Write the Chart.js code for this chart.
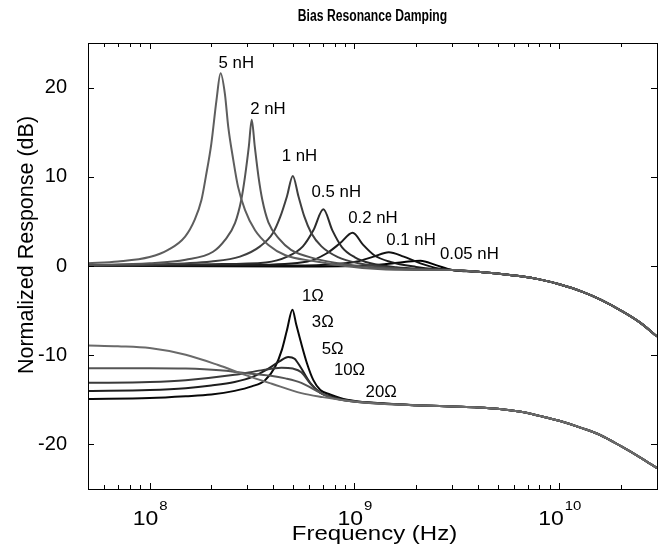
<!DOCTYPE html>
<html>
<head>
<meta charset="utf-8">
<script src="https://cdn.jsdelivr.net/npm/chart.js@4.4.1/dist/chart.umd.min.js"></script>
<style>
  html, body { margin: 0; padding: 0; background: #fff; }
  #c { display: block; }
</style>
</head>
<body>
<canvas id="c" width="668" height="553"></canvas>
<script>
// ---- Frequency response data (Hz, dB) ----
// Shared high-frequency roll-off, upper (inductance sweep) and lower (resistor sweep) groups
const tailFreq  = [3e9, 4e9, 5e9, 6.5e9, 8e9, 1e10, 1.3e10, 1.6e10, 2e10, 2.5e10, 3e10];
const tailUpper = [-0.45, -0.65, -0.85, -1.15, -1.5, -2.05, -2.9, -3.8, -5.0, -6.4, -7.9];
const tailLower = [-15.75, -15.85, -16.0, -16.35, -16.8, -17.35, -18.2, -19.0, -20.2, -21.5, -22.65];

// Bias inductance sweep
const freq5nH = [5e7, 7e7, 1e8, 1.23e8, 1.49e8, 1.66e8, 1.79e8, 1.88e8, 2.0e8, 2.12e8, 2.22e8, 2.33e8, 2.42e8, 2.56e8, 2.7e8, 2.92e8, 3.27e8, 3.8e8, 4.6e8, 6.3e8, 9e8, 1.3e9, 2e9];
const db5nH   = [0.3, 0.5, 1.0, 1.8, 3.3, 5.2, 7.4, 10.0, 13.7, 18.6, 21.6, 19.3, 15.6, 11.9, 8.9, 6.3, 4.0, 2.35, 1.2, 0.55, 0.0, -0.35, -0.45];

const freq2nH = [5e7, 1e8, 1.5e8, 2.04e8, 2.33e8, 2.61e8, 2.8e8, 2.92e8, 3.05e8, 3.15e8, 3.26e8, 3.4e8, 3.55e8, 3.8e8, 4.3e8, 4.9e8, 6.5e8, 9e8, 1.3e9, 2e9];
const db2nH   = [0.1, 0.3, 0.7, 1.6, 2.9, 4.8, 7.4, 10.0, 13.4, 16.4, 13.4, 10.0, 7.4, 4.9, 3.0, 1.8, 0.8, 0.2, -0.2, -0.4];

const freq1nH = [5e7, 1e8, 2e8, 2.76e8, 3.46e8, 4.0e8, 4.34e8, 4.68e8, 5.0e8, 5.33e8, 5.7e8, 6.15e8, 6.9e8, 8.3e8, 1.05e9, 1.5e9, 2e9];
const db1nH   = [0.05, 0.15, 0.5, 1.05, 2.2, 3.7, 5.5, 7.8, 10.1, 7.8, 5.5, 3.7, 2.2, 1.0, 0.3, -0.2, -0.35];

const freq05nH = [5e7, 1e8, 2e8, 3.7e8, 4.7e8, 5.6e8, 6.3e8, 7.05e8, 7.8e8, 8.7e8, 1.0e9, 1.2e9, 1.6e9, 2.2e9];
const db05nH   = [0.05, 0.1, 0.2, 0.4, 1.05, 2.2, 4.0, 6.35, 4.0, 2.1, 1.0, 0.3, -0.15, -0.35];

const freq02nH = [5e7, 1e8, 3e8, 5.9e8, 7.3e8, 8.5e8, 9.8e8, 1.1e9, 1.25e9, 1.5e9, 2e9, 2.5e9];
const db02nH   = [0.02, 0.05, 0.1, 0.5, 1.4, 2.55, 3.73, 2.4, 1.2, 0.45, -0.1, -0.35];

const freq01nH = [5e7, 1e8, 5e8, 8e8, 1.03e9, 1.24e9, 1.47e9, 1.74e9, 2.1e9, 2.6e9];
const db01nH   = [0.0, 0.02, 0.05, 0.2, 0.5, 1.05, 1.55, 1.05, 0.3, -0.3];

const freq005nH = [5e7, 1e8, 5e8, 1e9, 1.4e9, 1.75e9, 2.1e9, 2.5e9];
const db005nH   = [0.0, 0.0, -0.05, 0.0, 0.2, 0.45, 0.6, 0.1];

// Damping resistor sweep
const freq1R = [5e7, 1e8, 1.5e8, 2e8, 2.6e8, 3.15e8, 3.66e8, 4.1e8, 4.42e8, 4.68e8, 4.98e8, 5.2e8, 5.44e8, 5.86e8, 6.3e8, 6.81e8, 7.6e8, 9.2e8, 1.34e9, 1.95e9];
const db1R   = [-14.9, -14.8, -14.6, -14.4, -14.0, -13.5, -12.8, -11.3, -9.4, -7.2, -4.9, -6.6, -8.3, -10.9, -12.8, -13.9, -14.4, -15.0, -15.4, -15.6];

const freq3R = [5e7, 1e8, 1.5e8, 2e8, 2.6e8, 3.2e8, 3.8e8, 4.3e8, 4.75e8, 5.1e8, 5.44e8, 6.08e8, 6.8e8, 7.6e8, 9.2e8, 1.34e9, 1.95e9];
const db3R   = [-14.0, -13.9, -13.7, -13.4, -13.0, -12.4, -11.5, -10.7, -10.2, -10.4, -11.3, -13.1, -14.2, -14.6, -15.05, -15.4, -15.6];

const freq5R = [5e7, 1e8, 1.5e8, 2.6e8, 3.5e8, 4.4e8, 5.0e8, 5.5e8, 6.1e8, 6.8e8, 7.6e8, 9.2e8, 1.34e9, 1.95e9];
const db5R   = [-13.1, -13.0, -12.8, -12.2, -11.7, -11.4, -11.5, -11.9, -13.2, -14.2, -14.7, -15.1, -15.4, -15.6];

const freq10R = [5e7, 1e8, 1.5e8, 2.2e8, 2.9e8, 3.9e8, 4.6e8, 5.5e8, 6.8e8, 7.6e8, 9.2e8, 1.34e9, 1.95e9];
const db10R   = [-11.45, -11.45, -11.5, -11.7, -12.0, -12.3, -12.6, -13.1, -14.2, -14.7, -15.1, -15.45, -15.6];

const freq20R = [5e7, 7e7, 1e8, 1.5e8, 2.16e8, 2.92e8, 3.95e8, 5.5e8, 7e8, 9.2e8, 1.34e9, 1.95e9];
const db20R   = [-8.9, -9.0, -9.2, -9.95, -11.1, -12.2, -13.2, -14.25, -14.7, -15.1, -15.45, -15.6];

// Curve labels and their anchor points (Hz, dB)
const labelText = ['5 nH', '2 nH', '1 nH', '0.5 nH', '0.2 nH', '0.1 nH', '0.05 nH', '1\u03A9', '3\u03A9', '5\u03A9', '10\u03A9', '20\u03A9'];
const labelFreq = [2.65e8, 3.78e8, 5.39e8, 8.15e8, 1.23e9, 1.89e9, 3.64e9, 6.27e8, 7.0e8, 7.83e8, 9.46e8, 1.35e9];
const labelDb   = [22.7, 17.5, 12.25, 8.2, 5.27, 2.84, 1.23, -3.44, -6.36, -9.34, -11.77, -14.2];

// Axis ticks
const yTickValues = [-20, -10, 0, 10, 20];
const xDecades = [8, 9, 10];

const FONT = '"Liberation Sans", Arial, Helvetica, sans-serif';

function series(f, v, tf, tv) {
  const xs = f.concat(tf), ys = v.concat(tv);
  return xs.map((x, i) => ({ x: x, y: ys[i] }));
}

function ds(label, data, color, order) {
  return {
    label: label, data: data, borderColor: color, backgroundColor: color,
    borderWidth: 2, pointRadius: 0, showLine: true, fill: false,
    cubicInterpolationMode: 'monotone', order: order
  };
}

const datasets = [
  ds('5 nH',    series(freq5nH,  db5nH,  tailFreq, tailUpper), '#5e5e5e', 1),
  ds('2 nH',    series(freq2nH,  db2nH,  tailFreq, tailUpper), '#555555', 2),
  ds('1 nH',    series(freq1nH,  db1nH,  tailFreq, tailUpper), '#404040', 3),
  ds('0.5 nH',  series(freq05nH, db05nH, tailFreq, tailUpper), '#2c2c2c', 4),
  ds('0.2 nH',  series(freq02nH, db02nH, tailFreq, tailUpper), '#1c1c1c', 5),
  ds('0.1 nH',  series(freq01nH, db01nH, tailFreq, tailUpper), '#111111', 6),
  ds('0.05 nH', series(freq005nH, db005nH, tailFreq, tailUpper), '#000000', 7),
  ds('20\u03A9', series(freq20R, db20R, tailFreq, tailLower), '#6a6a6a', 1),
  ds('10\u03A9', series(freq10R, db10R, tailFreq, tailLower), '#555555', 2),
  ds('5\u03A9',  series(freq5R,  db5R,  tailFreq, tailLower), '#3a3a3a', 3),
  ds('3\u03A9',  series(freq3R,  db3R,  tailFreq, tailLower), '#1e1e1e', 4),
  ds('1\u03A9',  series(freq1R,  db1R,  tailFreq, tailLower), '#080808', 5)
];

// text drawn with an optional horizontal scale factor
function stretchedText(ctx, text, cx, cy, font, sx, baseline) {
  ctx.save();
  ctx.translate(cx, cy);
  ctx.scale(sx, 1);
  ctx.font = font;
  ctx.textAlign = 'center';
  ctx.textBaseline = baseline || 'middle';
  ctx.fillText(text, 0, 0);
  ctx.restore();
}

// Frame, inward tick marks, titles, decade labels and curve labels
const decorations = {
  id: 'decorations',
  afterDraw(chart) {
    const { ctx, chartArea: a, scales: { x, y } } = chart;
    ctx.save();
    ctx.strokeStyle = '#000';
    ctx.fillStyle = '#000';
    ctx.lineWidth = 1;

    // box
    ctx.strokeRect(Math.round(a.left) + 0.5, Math.round(a.top) + 0.5,
                   Math.round(a.right - a.left), Math.round(a.bottom - a.top));

    // x ticks (decades long, 2..9 short) on bottom and top edges
    ctx.beginPath();
    for (let e = 7; e <= 10; e++) {
      for (let m = 1; m <= 9; m++) {
        const v = m * Math.pow(10, e);
        if (v < x.min * 0.999 || v > x.max * 1.001) continue;
        const px = Math.round(x.getPixelForValue(v)) + 0.5;
        const len = m === 1 ? 6 : 4;
        ctx.moveTo(px, a.bottom); ctx.lineTo(px, a.bottom - len);
        ctx.moveTo(px, a.top); ctx.lineTo(px, a.top + len);
      }
    }
    // y ticks on left and right edges
    yTickValues.forEach(v => {
      const py = Math.round(y.getPixelForValue(v)) + 0.5;
      ctx.moveTo(a.left, py); ctx.lineTo(a.left + 6, py);
      ctx.moveTo(a.right, py); ctx.lineTo(a.right - 6, py);
    });
    ctx.stroke();

    // decade labels 10^n
    const sx = 1.15;
    xDecades.forEach(n => {
      const px = x.getPixelForValue(Math.pow(10, n));
      ctx.font = '20px ' + FONT;
      const wb = ctx.measureText('10').width * sx;
      ctx.font = '13px ' + FONT;
      const we = ctx.measureText(String(n)).width * sx;
      const left = px - (wb + we) / 2;
      stretchedText(ctx, '10', left + wb / 2, a.bottom + 36, '20px ' + FONT, sx, 'alphabetic');
      stretchedText(ctx, String(n), left + wb + 1 + we / 2, a.bottom + 21, '13px ' + FONT, sx, 'alphabetic');
    });

    // axis titles and chart title
    const midX = (a.left + a.right) / 2;
    stretchedText(ctx, 'Frequency (Hz)', midX + 2, a.bottom + 45, '20px ' + FONT, 1.2);
    stretchedText(ctx, 'Bias Resonance Damping', midX, 17, 'bold 16px ' + FONT, 0.76);

    ctx.save();
    ctx.translate(27, 245);
    ctx.rotate(-Math.PI / 2);
    ctx.font = '21.5px ' + FONT;
    ctx.textAlign = 'center';
    ctx.textBaseline = 'middle';
    ctx.fillText('Normalized Response (dB)', 0, 0);
    ctx.restore();

    // curve labels
    labelText.forEach((t, i) => {
      stretchedText(ctx, t, x.getPixelForValue(labelFreq[i]), y.getPixelForValue(labelDb[i]),
                    '16px ' + FONT, 1.05);
    });
    ctx.restore();
  }
};

new Chart(document.getElementById('c'), {
  type: 'scatter',
  data: { datasets: datasets },
  options: {
    responsive: false,
    animation: false,
    devicePixelRatio: 1,
    layout: { padding: { left: 0, right: 11, top: 43, bottom: 0 } },
    plugins: {
      legend: { display: false },
      tooltip: { enabled: false }
    },
    scales: {
      x: {
        type: 'logarithmic',
        min: 5e7, max: 3e10,
        grid: { display: false, drawTicks: false },
        border: { display: false },
        ticks: { display: false },
        afterFit(s) { s.height = 64; }
      },
      y: {
        type: 'linear',
        min: -25, max: 25,
        grid: { display: false, drawTicks: false },
        border: { display: false },
        ticks: { color: '#000', padding: 21, font: { family: FONT, size: 20 } },
        afterBuildTicks(s) { s.ticks = yTickValues.map(v => ({ value: v })); },
        afterFit(s) { s.width = 88; }
      }
    }
  },
  plugins: [decorations]
});
</script>
</body>
</html>
